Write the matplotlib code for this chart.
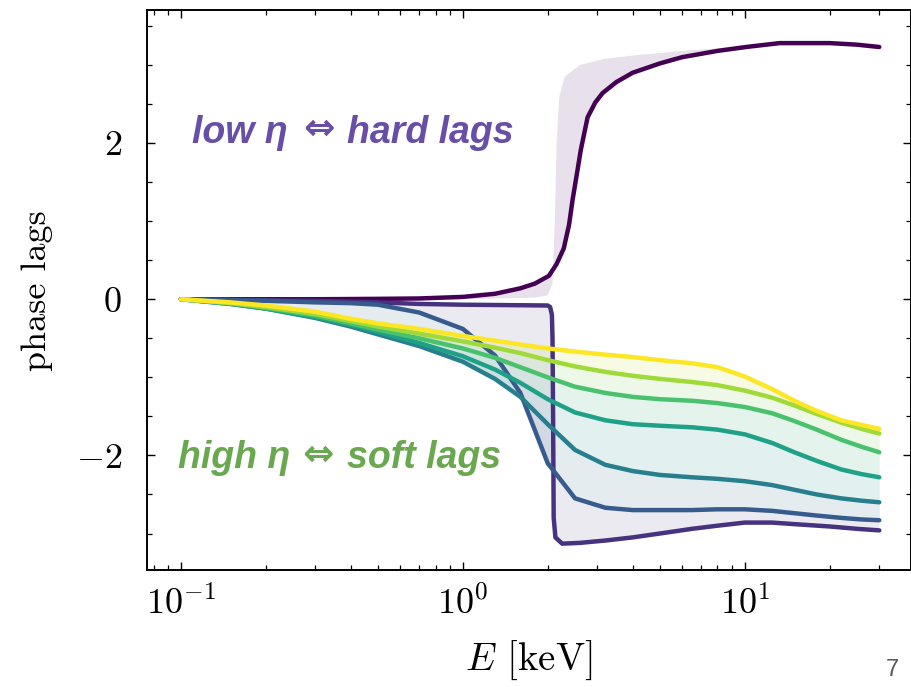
import numpy as np
import matplotlib.pyplot as plt
from matplotlib.ticker import MultipleLocator
from matplotlib import font_manager

plt.rcParams['font.family'] = 'serif'
plt.rcParams['font.serif'] = ['cmr10']
plt.rcParams['mathtext.fontset'] = 'cm'
plt.rcParams['axes.formatter.use_mathtext'] = True

# lowest eta: lag wraps upwards (hard lags)
E_hard = [0.1, 0.3, 0.5, 0.7, 1.0, 1.3, 1.6, 1.8, 2.02, 2.15, 2.28, 2.38, 2.45, 2.55,
          2.62, 2.77, 2.95, 3.13, 3.5, 4.0, 5.0, 6.0, 8.0, 10.1, 13.3, 20.0, 25.0, 30.0]
lag_hard = [0.0, 0.0, 0.005, 0.01, 0.03, 0.07, 0.14, 0.2, 0.3, 0.45, 0.65, 0.95, 1.27, 1.65,
            1.91, 2.33, 2.52, 2.64, 2.78, 2.9, 3.02, 3.1, 3.18, 3.23, 3.28, 3.28, 3.26, 3.23]

# steepest of the upward-wrapping family
E_hard_edge = [0.1, 1.0, 1.8, 2.0, 2.08, 2.12, 2.15, 2.2, 2.3, 2.6, 3.2, 4.0, 6.0, 10.0,
               14.0, 20.0, 30.0]
lag_hard_edge = [0.0, 0.0, 0.02, 0.05, 0.2, 1.0, 2.0, 2.6, 2.85, 3.0, 3.08, 3.12, 3.18,
                 3.24, 3.29, 3.29, 3.24]

# first curve wrapping downwards
E_wrap = [0.1, 0.3, 0.5, 0.7, 1.0, 2.0, 2.04, 2.07, 2.08, 2.09, 2.1, 2.13, 2.25, 2.6,
          3.2, 4.0, 5.0, 6.5, 8.0, 10.0, 12.5, 15.0, 20.0, 25.0, 30.0]
lag_wrap = [0.0, -0.02, -0.04, -0.06, -0.07, -0.08, -0.1, -0.2, -0.5, -1.5, -2.8, -3.05,
            -3.13, -3.12, -3.09, -3.05, -3.0, -2.94, -2.9, -2.86, -2.86, -2.88, -2.91,
            -2.94, -2.96]

# higher eta: soft lags
E_soft = [0.1, 0.15, 0.2, 0.3, 0.4, 0.5, 0.7, 1.0, 1.3, 1.6, 2.0, 2.5, 3.2, 4.0, 5.0,
          6.5, 8.0, 10.0, 12.5, 15.0, 18.0, 22.0, 26.0, 30.0]
lag_eta2 = [0.0, -0.01, -0.02, -0.04, -0.05, -0.07, -0.17, -0.38, -0.72, -1.2, -2.1, -2.55,
            -2.67, -2.7, -2.7, -2.7, -2.69, -2.69, -2.71, -2.74, -2.77, -2.8, -2.82, -2.83]
lag_eta3 = [0.0, -0.06, -0.12, -0.24, -0.35, -0.45, -0.6, -0.8, -1.02, -1.25, -1.6, -1.93,
            -2.12, -2.2, -2.25, -2.28, -2.3, -2.33, -2.38, -2.44, -2.5, -2.55, -2.58, -2.6]
lag_eta4 = [0.0, -0.06, -0.12, -0.23, -0.33, -0.42, -0.56, -0.73, -0.9, -1.07, -1.28, -1.45,
            -1.55, -1.6, -1.62, -1.64, -1.67, -1.73, -1.84, -1.96, -2.07, -2.18, -2.24, -2.28]
lag_eta5 = [0.0, -0.05, -0.11, -0.21, -0.31, -0.39, -0.5, -0.63, -0.75, -0.87, -1.0, -1.12,
            -1.2, -1.25, -1.28, -1.3, -1.33, -1.38, -1.46, -1.56, -1.67, -1.8, -1.89, -1.96]
lag_eta6 = [0.0, -0.05, -0.1, -0.19, -0.28, -0.35, -0.44, -0.54, -0.62, -0.69, -0.78, -0.86,
            -0.93, -0.98, -1.02, -1.06, -1.1, -1.17, -1.26, -1.36, -1.47, -1.58, -1.66, -1.72]
lag_eta7 = [0.0, -0.04, -0.08, -0.16, -0.25, -0.31, -0.38, -0.47, -0.53, -0.58, -0.63, -0.67,
            -0.71, -0.74, -0.78, -0.82, -0.87, -0.99, -1.15, -1.3, -1.43, -1.55, -1.61, -1.66]

soft_curves = [lag_eta2, lag_eta3, lag_eta4, lag_eta5, lag_eta6, lag_eta7]

cols = plt.cm.viridis(np.linspace(0, 1, 8))

fig = plt.figure(figsize=(9.12, 6.87), dpi=100)
ax = fig.add_axes([0.161, 0.170, 0.838, 0.815])

# faint bands standing in for the many intermediate eta values
ax.fill(np.concatenate([E_hard, E_hard_edge[::-1]]),
        np.concatenate([lag_hard, lag_hard_edge[::-1]]),
        color=cols[0], alpha=0.12, lw=0, zorder=1)
ax.fill(np.concatenate([E_wrap, E_soft[::-1]]),
        np.concatenate([lag_wrap, lag_eta2[::-1]]),
        color=cols[1], alpha=0.10, lw=0, zorder=1)
for i in range(len(soft_curves) - 1):
    c = (cols[i + 2] + cols[i + 3]) / 2
    ax.fill_between(E_soft, soft_curves[i], soft_curves[i + 1],
                    color=c, alpha=0.13, lw=0, zorder=1)

lw = 3.2
ax.plot(E_hard, lag_hard, color=cols[0], lw=lw, solid_capstyle='round',
        solid_joinstyle='round', zorder=3)
ax.plot(E_wrap, lag_wrap, color=cols[1], lw=lw, solid_joinstyle='round',
        solid_capstyle='round', zorder=3)
for i, lag in enumerate(soft_curves):
    ax.plot(E_soft, lag, color=cols[i + 2], lw=lw, solid_capstyle='round',
            solid_joinstyle='round', zorder=3)

ax.set_xscale('log')
ax.set_xlim(0.0757, 38.9)
ax.set_ylim(-3.47, 3.70)
ax.set_yticks([-2, 0, 2])
ax.yaxis.set_minor_locator(MultipleLocator(0.5))
ax.tick_params(which='both', direction='in', top=True, right=True, labelsize=26)
ax.tick_params(which='major', length=6, width=1.0)
ax.tick_params(which='minor', length=3.5, width=0.9)
ax.tick_params(axis='y', pad=18)
ax.tick_params(axis='x', pad=11)
for s in ax.spines.values():
    s.set_linewidth(1.4)

ax.set_xlabel(r'$E$ [keV]', fontsize=28, labelpad=13)
ax.set_ylabel('phase lags', fontsize=26, labelpad=16)

avail = {f.name for f in font_manager.fontManager.ttflist}
if 'Liberation Sans Narrow' in avail:
    note_font = ['Liberation Sans Narrow', 'DejaVu Sans']
    note_size = 33
else:
    note_font = ['Liberation Sans', 'DejaVu Sans']
    note_size = 27
note_style = dict(transform=ax.transAxes, family=note_font, fontsize=note_size,
                  fontweight='bold', fontstyle='italic')
arrow_style = dict(transform=ax.transAxes, family='DejaVu Sans', fontsize=27,
                   fontweight='bold', ha='center', va='center')

ax.text(0.059, 0.7625, u'low \u03b7', color='#674ea7', va='baseline', **note_style)
ax.text(0.225, 0.786, u'\u21d4', color='#674ea7', **arrow_style)
ax.text(0.262, 0.7625, 'hard lags', color='#674ea7', va='baseline', **note_style)

ax.text(0.041, 0.182, u'high \u03b7', color='#6aa84f', va='baseline', **note_style)
ax.text(0.224, 0.205, u'\u21d4', color='#6aa84f', **arrow_style)
ax.text(0.262, 0.182, 'soft lags', color='#6aa84f', va='baseline', **note_style)

fig.text(0.979, 0.016, '7', family=['Liberation Sans', 'DejaVu Sans'], fontsize=17,
         color='#595959', ha='center', va='baseline')

fig.savefig('out.png', dpi=100)
